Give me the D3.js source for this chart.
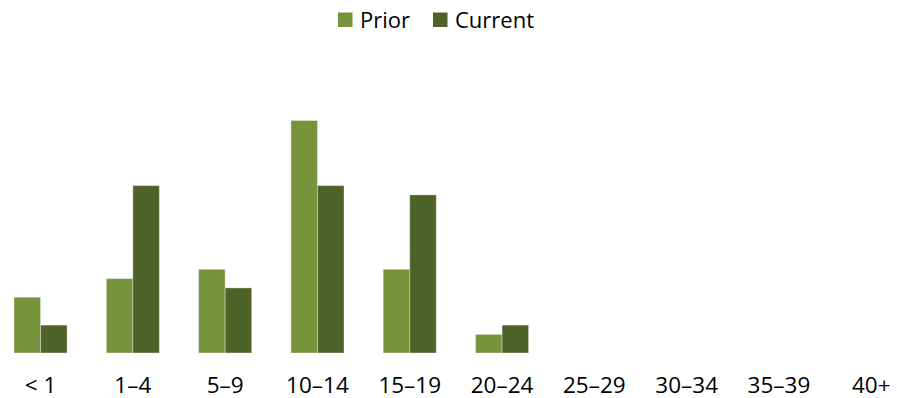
<!DOCTYPE html>
<html>
<head>
<meta charset="utf-8">
<script src="https://cdn.jsdelivr.net/npm/d3@7"></script>
<style>
  html, body { margin: 0; padding: 0; background: #fff; }
  svg { display: block; font-family: "Open Sans", sans-serif; }
</style>
</head>
<body>
<svg id="chart" width="897" height="398"></svg>
<script>
// Age bands along the x axis
const categories = ["< 1", "1–4", "5–9", "10–14", "15–19", "20–24", "25–29", "30–34", "35–39", "40+"];
// Counts per band
const priorValues = [6, 8, 9, 25, 9, 2, 0, 0, 0, 0];
const currentValues = [3, 18, 7, 18, 17, 3, 0, 0, 0, 0];
const seriesNames = ["Prior", "Current"];
const seriesColors = ["#77933C", "#4F6228"];

const svg = d3.select("#chart");
const baseline = 353;

const x = d3.scaleBand()
  .domain(categories)
  .range([-5.6, 917.4])
  .paddingInner(0.425)
  .paddingOuter(0.2125);

const xs = d3.scaleBand()
  .domain(seriesNames)
  .range([0, x.bandwidth()]);

const y = d3.scaleLinear().domain([0, 30]).range([baseline, 74]);

const rows = categories.map((c, i) => ({
  cat: c,
  vals: [priorValues[i], currentValues[i]]
}));

const groups = svg.append("g").selectAll("g")
  .data(rows)
  .join("g")
  .attr("transform", d => `translate(${x(d.cat)},0)`);

groups.selectAll("rect")
  .data(d => d.vals.map((v, j) => ({ v, j })).filter(e => e.v > 0))
  .join("rect")
  .attr("x", e => xs(seriesNames[e.j]))
  .attr("width", xs.bandwidth())
  .attr("y", e => y(e.v))
  .attr("height", e => baseline - y(e.v))
  .attr("fill", e => seriesColors[e.j])
  .attr("stroke", "rgba(255,255,255,0.35)")
  .attr("stroke-width", 1);

// Category labels
const xAxis = d3.axisBottom(x).tickSize(0).tickPadding(0);
const axisG = svg.append("g")
  .attr("transform", `translate(0,${baseline})`)
  .call(xAxis);
axisG.select(".domain").remove();
axisG.selectAll("text")
  .attr("y", 40)
  .attr("dy", null)
  .attr("font-family", "Open Sans, sans-serif")
  .attr("font-size", 22.5)
  .attr("fill", "#000");

// Legend
const legend = svg.append("g");
const legendItems = [
  { name: "Prior", color: seriesColors[0], x: 338 },
  { name: "Current", color: seriesColors[1], x: 433 }
];
legendItems.forEach(it => {
  legend.append("rect")
    .attr("x", it.x).attr("y", 12.5)
    .attr("width", 14.5).attr("height", 14.5)
    .attr("fill", it.color);
  legend.append("text")
    .attr("x", it.x + 22).attr("y", 28)
    .attr("font-size", 22)
    .attr("fill", "#000")
    .text(it.name);
});
</script>
</body>
</html>
